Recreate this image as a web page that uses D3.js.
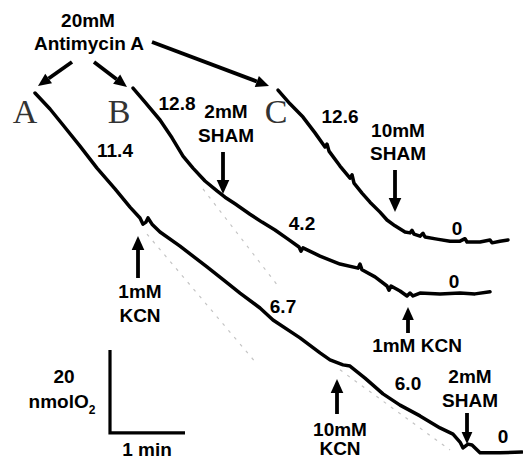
<!DOCTYPE html>
<html><head><meta charset="utf-8">
<script src="https://cdn.jsdelivr.net/npm/d3@7/dist/d3.min.js"></script>
<style>
html,body{margin:0;padding:0;background:#fff;}
svg{display:block;}
text{font-family:"Liberation Sans",Arial,sans-serif;font-weight:bold;fill:#000;}
.letter{font-family:"Liberation Serif","Times New Roman",serif;font-weight:normal;fill:#333;}
</style>
</head><body>
<svg id="chart" width="523" height="461"></svg>
<script>
// ---- data: time (s) and oxygen (nmol O2) ----
const traceA_t = [20,32,42.4,56,69.6,84,96,104,106.4,108.8,110.4,113.6,120,136,157.6,172,184,200,210.4,232,248,256,266.4,272,284,298.4,312,328,344,354.4,360,362.4,366.4,369.6,376,392,409.6];
const traceA_n = [86.5,82.65,78.8,73.7,68.4,63.4,59.0,56.4,54.9,55.4,56.4,54.9,53.0,49.6,44.6,41.2,38.3,34.7,31.8,27.5,23.9,22.2,21.0,20.7,17.8,14.0,11.3,8.7,5.8,4.3,2.4,1.0,1.9,1.7,-0.2,-0.2,0];
const traceB_t = [98.4,108,120,129.6,138.4,146.4,156,165.6,172,180,192,201.6,212,222.4,231.2,232.8,234.4,248,264,278.4,280,281.6,292,301.6,303.2,304.8,312,317.6,320,322.4,328,344,360,372,384];
const traceB_n = [87.7,84.3,80.0,75.7,71.3,68.4,65.3,62.9,61.4,59.8,57.3,55.4,53.5,51.3,49.4,48.4,49.2,47.2,45.3,44.3,45.3,43.9,42.2,40.0,39.0,40.0,38.8,37.6,38.3,37.6,38.3,38.1,38.3,38.1,38.6];
const traceC_t = [214.4,224,234.4,244,252,253.6,255.2,264,272,273.6,275.2,281.6,288,296,301.6,308,316,320,321.6,323.2,328,330.4,332,341.6,352,360,364,365.6,376,384,385.6,392,398.4];
const traceC_n = [87.2,83.9,80.7,76.9,73.5,74.2,72.5,68.9,66.0,66.8,64.8,62.4,60.2,57.8,55.9,54.5,53.0,52.8,53.4,52.5,52.0,52.7,51.8,51.3,50.8,50.8,51.4,50.6,50.6,51.1,50.4,50.8,51.1];
// extrapolation guides (time s, nmol)
const guideT = [[154.4,214.4],[109.6,197.6],[264,352]];
const guideN = [[63.4,40.0],[52.5,21.2],[19.8,0.5]];
// rate labels
const rateLabels = ["11.4","12.8","4.2","6.7","12.6","6.0","0","0","0"];
const traceNames = ["A","B","C"];
const scaleBarValues = [20, 60]; // nmol, s

const svg = d3.select("#chart");
const x = d3.scaleLinear().domain([0,420]).range([10,535]);
const y = d3.scaleLinear().domain([0,100]).range([452,37]);

// guides
guideT.forEach((tt,i)=>{
  svg.append("line").attr("x1",x(tt[0])).attr("y1",y(guideN[i][0]))
    .attr("x2",x(tt[1])).attr("y2",y(guideN[i][1]))
    .attr("stroke","#c4c4c4").attr("stroke-width",1.2).attr("stroke-dasharray","3,6");
});

const line = d3.line().x(d=>x(d[0])).y(d=>y(d[1]));
[[traceA_t,traceA_n],[traceB_t,traceB_n],[traceC_t,traceC_n]].forEach(([tt,nn])=>{
  svg.append("path").datum(tt.map((t,i)=>[t,nn[i]])).attr("d",line)
    .attr("fill","none").attr("stroke","#000").attr("stroke-width",3.5)
    .attr("stroke-linejoin","round").attr("stroke-linecap","round");
});

const FS = 19;
function txt(s,cx,by,size){
  return svg.append("text").attr("x",cx).attr("y",by).attr("text-anchor","middle")
    .style("font-size",(size||FS)+"px").text(s);
}
function arrow(x1,y1,x2,y2,head){
  head = head||12;
  const ang = Math.atan2(y2-y1,x2-x1);
  const bx = x2 - head*Math.cos(ang), by = y2 - head*Math.sin(ang);
  svg.append("line").attr("x1",x1).attr("y1",y1).attr("x2",bx).attr("y2",by)
    .attr("stroke","#000").attr("stroke-width",3.8);
  const w = head*0.45;
  const px = -Math.sin(ang)*w, py = Math.cos(ang)*w;
  svg.append("path").attr("d",`M${x2},${y2}L${bx+px},${by+py}L${bx-px},${by-py}Z`).attr("fill","#000");
}

// Antimycin label and arrows
txt("20mM",88,27);
txt("Antimycin A",89,50);
arrow(72,62,38,86,13);
arrow(94,62,127,87,13);
arrow(152,42,269,86,13);

// trace letters
[[25,123],[119,123],[276,123]].forEach((p,i)=>{
  svg.append("text").attr("class","letter").attr("x",p[0]).attr("y",p[1])
    .attr("text-anchor","middle").style("font-size","34px").text(traceNames[i]);
});

// rate labels
const ratePos = [[115,157],[177,110],[302,230],[283,313],[340,123],[408,390],[457,235],[454,288],[503,443]];
rateLabels.forEach((s,i)=>txt(s,ratePos[i][0],ratePos[i][1]));

// additions
txt("2mM",226,118); txt("SHAM",226,142);
arrow(223,152,223,194,14);
txt("10mM",398,137); txt("SHAM",398,160);
arrow(395,170,395,212,14);
txt("1mM",140,298); txt("KCN",140,322);
arrow(138,278,138,236,14);
txt("1mM KCN",417,352);
arrow(408,333,408,307,13);
txt("10mM",340,436); txt("KCN",340,455);
arrow(337,414,337,379,14);
txt("2mM",470,383); txt("SHAM",470,407);
arrow(467,413,467,444,12);

// scale bar
const sbT = 80, sbN = 4.6;
svg.append("path")
  .attr("d",`M${x(sbT)},${y(sbN+scaleBarValues[0])}V${y(sbN)}H${x(sbT+scaleBarValues[1])}`)
  .attr("fill","none").attr("stroke","#000").attr("stroke-width",3.2);
txt(String(scaleBarValues[0]),64,383);
const t2 = svg.append("text").attr("x",62).attr("y",408).attr("text-anchor","middle").style("font-size",FS+"px");
t2.append("tspan").text("nmolO");
t2.append("tspan").attr("dy",6).style("font-size","12px").text("2");
txt("1 min",147,456);
</script>
</body></html>
